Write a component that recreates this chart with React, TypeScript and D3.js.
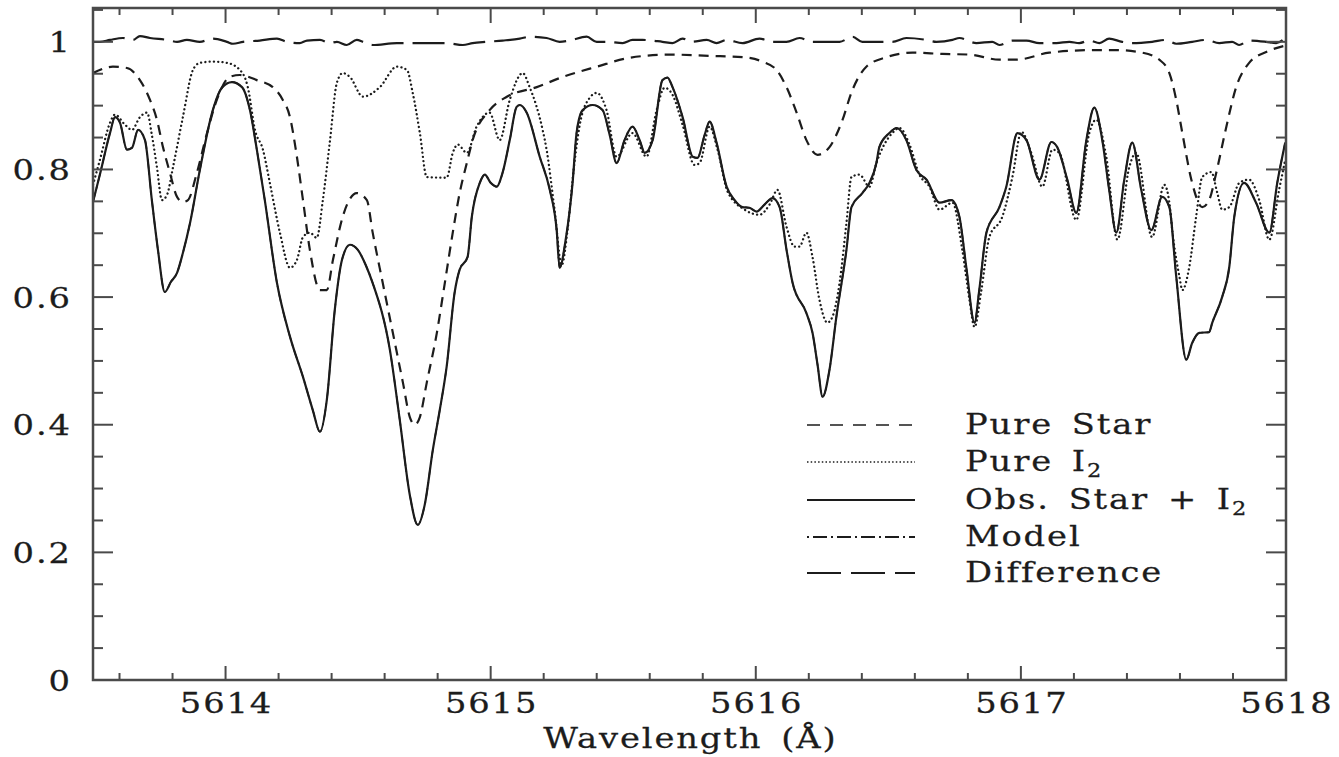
import React from "react";
import * as d3 from "d3";

// ---------- data (wavelength in Å, normalised flux) ----------
const obsWave = [5613.500,5613.526,5613.564,5613.583,5613.602,5613.628,5613.647,5613.670,5613.696,5613.722,5613.745,5613.771,5613.794,5613.817,5613.839,5613.866,5613.903,5613.952,5613.986,5614.024,5614.062,5614.092,5614.118,5614.148,5614.194,5614.243,5614.292,5614.329,5614.356,5614.382,5614.412,5614.439,5614.469,5614.499,5614.529,5614.555,5614.620,5614.657,5614.695,5614.725,5614.751,5614.782,5614.808,5614.834,5614.864,5614.883,5614.913,5614.929,5614.959,5614.978,5615.000,5615.023,5615.045,5615.072,5615.098,5615.110,5615.136,5615.185,5615.223,5615.249,5615.260,5615.283,5615.309,5615.324,5615.347,5615.385,5615.422,5615.449,5615.475,5615.505,5615.535,5615.562,5615.581,5615.611,5615.648,5615.667,5615.686,5615.724,5615.762,5615.780,5615.807,5615.826,5615.852,5615.890,5615.920,5615.950,5615.976,5616.003,5616.033,5616.063,5616.090,5616.116,5616.139,5616.191,5616.214,5616.233,5616.252,5616.278,5616.304,5616.342,5616.361,5616.402,5616.429,5616.455,5616.466,5616.504,5616.531,5616.568,5616.606,5616.644,5616.693,5616.738,5616.768,5616.794,5616.825,5616.843,5616.870,5616.919,5616.945,5616.987,5617.021,5617.070,5617.115,5617.137,5617.175,5617.209,5617.247,5617.277,5617.307,5617.333,5617.360,5617.390,5617.420,5617.454,5617.492,5617.533,5617.560,5617.586,5617.624,5617.646,5617.673,5617.710,5617.722,5617.759,5617.786,5617.805,5617.842,5617.887,5617.937,5617.967,5617.997];
const obsFlux = [0.749,0.792,0.857,0.882,0.873,0.831,0.834,0.862,0.846,0.752,0.674,0.608,0.624,0.638,0.669,0.716,0.799,0.893,0.928,0.937,0.929,0.893,0.831,0.752,0.622,0.538,0.475,0.423,0.389,0.439,0.580,0.658,0.682,0.674,0.650,0.622,0.517,0.408,0.290,0.243,0.274,0.361,0.423,0.491,0.607,0.643,0.663,0.726,0.779,0.792,0.779,0.773,0.795,0.846,0.898,0.901,0.889,0.820,0.768,0.705,0.646,0.690,0.779,0.857,0.893,0.901,0.893,0.854,0.810,0.846,0.867,0.846,0.826,0.846,0.940,0.944,0.929,0.882,0.820,0.818,0.854,0.875,0.842,0.773,0.752,0.741,0.740,0.734,0.745,0.755,0.741,0.674,0.622,0.575,0.544,0.494,0.444,0.486,0.569,0.674,0.741,0.763,0.779,0.810,0.835,0.857,0.865,0.846,0.799,0.784,0.748,0.752,0.726,0.647,0.560,0.611,0.701,0.741,0.773,0.857,0.846,0.784,0.843,0.835,0.784,0.732,0.846,0.897,0.846,0.768,0.701,0.784,0.842,0.768,0.705,0.757,0.741,0.632,0.502,0.528,0.544,0.545,0.560,0.600,0.647,0.726,0.779,0.748,0.701,0.779,0.842];

// the fitted model lies on top of the observed spectrum
const modelWave = obsWave;
const modelFlux = obsFlux;

const i2Wave = [5613.500,5613.526,5613.564,5613.583,5613.621,5613.647,5613.677,5613.704,5613.722,5613.741,5613.760,5613.779,5613.802,5613.839,5613.877,5613.903,5613.952,5614.005,5614.054,5614.084,5614.111,5614.141,5614.167,5614.205,5614.243,5614.269,5614.292,5614.318,5614.344,5614.367,5614.393,5614.420,5614.442,5614.469,5614.518,5614.582,5614.646,5614.684,5614.706,5614.733,5614.759,5614.834,5614.857,5614.876,5614.910,5614.947,5614.996,5615.034,5615.072,5615.121,5615.147,5615.196,5615.211,5615.241,5615.268,5615.290,5615.313,5615.336,5615.373,5615.400,5615.437,5615.475,5615.535,5615.588,5615.626,5615.656,5615.686,5615.724,5615.769,5615.788,5615.826,5615.856,5615.894,5615.958,5616.014,5616.052,5616.082,5616.116,5616.146,5616.165,5616.191,5616.214,5616.240,5616.270,5616.289,5616.316,5616.342,5616.361,5616.391,5616.429,5616.455,5616.515,5616.542,5616.580,5616.617,5616.655,5616.693,5616.742,5616.779,5616.806,5616.825,5616.851,5616.881,5616.930,5616.968,5617.002,5617.039,5617.081,5617.119,5617.145,5617.209,5617.258,5617.284,5617.322,5617.364,5617.409,5617.435,5617.495,5617.541,5617.560,5617.572,5617.598,5617.609,5617.635,5617.661,5617.684,5617.718,5617.741,5617.759,5617.786,5617.824,5617.861,5617.899,5617.937,5617.974,5617.997];
const i2Flux = [0.776,0.815,0.873,0.886,0.870,0.862,0.882,0.889,0.854,0.804,0.752,0.760,0.804,0.882,0.956,0.967,0.969,0.967,0.956,0.929,0.862,0.831,0.779,0.701,0.646,0.658,0.694,0.701,0.693,0.752,0.842,0.936,0.951,0.945,0.914,0.929,0.961,0.956,0.920,0.857,0.788,0.787,0.826,0.839,0.826,0.867,0.889,0.846,0.909,0.951,0.929,0.862,0.831,0.737,0.650,0.705,0.799,0.870,0.912,0.920,0.893,0.820,0.857,0.820,0.893,0.928,0.917,0.870,0.807,0.810,0.867,0.831,0.765,0.737,0.729,0.745,0.768,0.710,0.679,0.679,0.701,0.663,0.596,0.560,0.569,0.622,0.716,0.788,0.792,0.773,0.810,0.857,0.865,0.839,0.792,0.773,0.737,0.748,0.674,0.596,0.553,0.611,0.694,0.726,0.788,0.859,0.826,0.773,0.831,0.826,0.721,0.857,0.878,0.820,0.690,0.804,0.826,0.694,0.776,0.748,0.701,0.632,0.611,0.647,0.726,0.788,0.796,0.763,0.737,0.741,0.779,0.784,0.752,0.690,0.768,0.815];

const starWave = [5613.500,5613.575,5613.628,5613.677,5613.715,5613.741,5613.764,5613.790,5613.817,5613.839,5613.858,5613.892,5613.930,5613.967,5614.016,5614.054,5614.118,5614.178,5614.216,5614.243,5614.265,5614.292,5614.318,5614.356,5614.382,5614.405,5614.442,5614.495,5614.533,5614.555,5614.593,5614.631,5614.669,5614.695,5614.714,5614.733,5614.759,5614.797,5614.827,5614.857,5614.883,5614.910,5614.932,5614.996,5615.061,5615.174,5615.272,5615.400,5615.524,5615.675,5615.826,5615.950,5616.025,5616.078,5616.116,5616.154,5616.191,5616.233,5616.278,5616.323,5616.365,5616.417,5616.493,5616.591,5616.704,5616.806,5616.919,5616.983,5617.107,5617.269,5617.360,5617.458,5617.522,5617.560,5617.586,5617.609,5617.643,5617.684,5617.710,5617.737,5617.775,5617.812,5617.861,5617.925,5617.997];
const starFlux = [0.951,0.961,0.959,0.940,0.909,0.878,0.835,0.795,0.757,0.749,0.752,0.795,0.857,0.909,0.945,0.948,0.940,0.929,0.909,0.882,0.831,0.752,0.674,0.611,0.611,0.658,0.726,0.763,0.752,0.701,0.622,0.544,0.466,0.412,0.400,0.412,0.466,0.544,0.622,0.701,0.763,0.810,0.846,0.893,0.914,0.929,0.945,0.961,0.975,0.980,0.978,0.976,0.969,0.956,0.929,0.889,0.846,0.823,0.835,0.873,0.925,0.961,0.976,0.983,0.981,0.980,0.972,0.972,0.983,0.987,0.987,0.983,0.972,0.951,0.909,0.857,0.784,0.741,0.752,0.795,0.867,0.929,0.967,0.984,0.994];

const diffWave = [5613.500,5613.526,5613.564,5613.613,5613.651,5613.677,5613.715,5613.779,5613.817,5613.854,5613.903,5613.952,5614.005,5614.028,5614.066,5614.129,5614.194,5614.231,5614.280,5614.307,5614.356,5614.393,5614.420,5614.457,5614.495,5614.518,5614.555,5614.646,5614.721,5614.834,5614.895,5614.932,5614.985,5615.045,5615.110,5615.147,5615.211,5615.260,5615.298,5615.362,5615.400,5615.437,5615.498,5615.535,5615.573,5615.648,5615.686,5615.724,5615.758,5615.815,5615.852,5615.890,5615.950,5616.014,5616.063,5616.116,5616.165,5616.214,5616.267,5616.316,5616.365,5616.402,5616.455,5616.515,5616.568,5616.644,5616.681,5616.742,5616.768,5616.832,5616.892,5616.919,5616.968,5617.021,5617.070,5617.134,5617.183,5617.220,5617.258,5617.296,5617.333,5617.382,5617.420,5617.495,5617.548,5617.586,5617.646,5617.699,5617.748,5617.797,5617.823,5617.861,5617.925,5617.963,5617.997];
const diffFlux = [1.000,1.000,1.003,1.006,1.003,1.009,1.006,1.003,1.000,1.003,1.000,1.005,1.000,0.997,1.000,1.002,1.005,1.000,0.998,1.002,1.003,0.998,1.000,0.995,1.003,1.000,0.995,0.998,0.998,0.998,0.995,0.998,1.000,1.002,1.005,1.008,1.006,1.000,1.002,1.008,1.000,1.000,0.998,1.003,1.003,1.000,0.998,1.005,1.000,1.003,0.998,1.003,0.998,1.005,1.000,1.000,1.006,1.000,1.000,1.000,1.008,1.000,1.000,1.000,1.006,1.003,1.000,1.003,1.006,0.998,1.000,0.995,1.002,1.002,0.998,0.998,1.000,0.998,1.002,0.998,1.005,1.000,0.998,1.000,1.003,0.997,1.000,1.003,0.998,1.000,0.995,1.002,1.000,0.998,1.006];

const xMajorTicks = [5614, 5615, 5616, 5617, 5618];
const xTickLabels = ["5614", "5615", "5616", "5617", "5618"];
const yMajorTicks = [0, 0.2, 0.4, 0.6, 0.8, 1.0];
const yTickLabels = ["0", "0.2", "0.4", "0.6", "0.8", "1"];
const xDomain = [5613.5, 5618];
const yDomain = [0, 1.053];

const legendLabels = ["Pure Star", "Pure I", "Obs. Star + I", "Model", "Difference"];

// ---------- layout ----------
const W = 1339, H = 757;
const L = 93, R = 1286, T = 8, B = 680;
const INK = "#1c1c1c";
const FRAME = "#4a4a4a";
const FONT = "'DejaVu Serif', serif";
const FS = 27;
const LS = 1.5;
const SX = 1.25;

type Style = { dash: string; width: number; cap: "butt" | "round" };
const styles: Style[] = [
  { dash: "10,7", width: 2.2, cap: "butt" },      // pure star
  { dash: "0.1,4.2", width: 2.3, cap: "round" },  // pure I2
  { dash: "", width: 2.2, cap: "butt" },          // obs
  { dash: "10,4,2,4", width: 1.6, cap: "butt" },  // model
  { dash: "32,9", width: 2.2, cap: "butt" },      // difference
];
const legendStyles: Style[] = [
  { dash: "13,10", width: 1.6, cap: "butt" },
  { dash: "1.5,2.2", width: 1.4, cap: "butt" },
  { dash: "", width: 1.8, cap: "butt" },
  { dash: "2,4,14,4", width: 1.8, cap: "butt" },
  { dash: "34,10", width: 1.8, cap: "butt" },
];

const textStyle: React.CSSProperties = {
  fontFamily: FONT,
  fontSize: FS,
  letterSpacing: LS,
  wordSpacing: 5,
  fill: INK,
  stroke: INK,
  strokeWidth: 0.25,
};

function Label(props: {
  x: number;
  y: number;
  anchor: "start" | "middle" | "end";
  children: React.ReactNode;
}) {
  const shift = props.anchor === "end" ? LS : props.anchor === "middle" ? LS / 2 : 0;
  return (
    <g transform={`translate(${props.x},${props.y}) scale(${SX},1)`}>
      <text x={shift} y={0} textAnchor={props.anchor} style={textStyle}>
        {props.children}
      </text>
    </g>
  );
}

export default function App() {
  const x = d3.scaleLinear().domain(xDomain).range([L, R]);
  const y = d3.scaleLinear().domain(yDomain).range([B, T]);

  const mk = (w: number[], f: number[]) =>
    d3
      .line<number>()
      .x((_, i) => x(w[i]))
      .y((v) => y(v))
      .curve(d3.curveMonotoneX)(f) || "";

  const series = [
    mk(starWave, starFlux),
    mk(i2Wave, i2Flux),
    mk(obsWave, obsFlux),
    mk(modelWave, modelFlux),
    mk(diffWave, diffFlux),
  ];

  const xMinor = d3.range(5613.6, 5618.0001, 0.2).filter(
    (v) => !xMajorTicks.some((m) => Math.abs(m - v) < 1e-6)
  );
  const yMinor = d3.range(0.05, 1.0501, 0.05).filter(
    (v) => !yMajorTicks.some((m) => Math.abs(m - v) < 1e-6)
  );

  const legendRows = [425, 462, 500, 537, 573];

  return (
    <svg
      width={W}
      height={H}
      style={{ position: "absolute", left: 0, top: 0, background: "#fff" }}
    >
      <defs>
        <clipPath id="plotclip">
          <rect x={L} y={T} width={R - L} height={B - T} />
        </clipPath>
      </defs>

      {/* data */}
      <g clipPath="url(#plotclip)" fill="none" stroke={INK} strokeLinejoin="round">
        {series.map((d, i) => (
          <path
            key={i}
            d={d}
            strokeWidth={styles[i].width}
            strokeDasharray={styles[i].dash || undefined}
            strokeLinecap={styles[i].cap}
          />
        ))}
      </g>

      {/* frame */}
      <rect x={L} y={T} width={R - L} height={B - T} fill="none" stroke={FRAME} strokeWidth={2.5} />

      {/* ticks */}
      <g stroke={FRAME} strokeWidth={2}>
        {xMajorTicks.map((v) => (
          <g key={"xM" + v}>
            <line x1={x(v)} x2={x(v)} y1={B} y2={B - 14} />
            <line x1={x(v)} x2={x(v)} y1={T} y2={T + 15} />
          </g>
        ))}
        {xMinor.map((v) => (
          <g key={"xm" + v}>
            <line x1={x(v)} x2={x(v)} y1={B} y2={B - 7} />
            <line x1={x(v)} x2={x(v)} y1={T} y2={T + 7} />
          </g>
        ))}
        {yMajorTicks.map((v) => (
          <g key={"yM" + v}>
            <line x1={L} x2={L + 20} y1={y(v)} y2={y(v)} />
            <line x1={R} x2={R - 20} y1={y(v)} y2={y(v)} />
          </g>
        ))}
        {yMinor.map((v) => (
          <g key={"ym" + v}>
            <line x1={L} x2={L + 10} y1={y(v)} y2={y(v)} />
            <line x1={R} x2={R - 10} y1={y(v)} y2={y(v)} />
          </g>
        ))}
      </g>

      {/* tick labels */}
      {xMajorTicks.map((v, i) => (
        <Label key={"xl" + v} x={x(v)} y={B + 33} anchor="middle">
          {xTickLabels[i]}
        </Label>
      ))}
      {yMajorTicks.map((v, i) => (
        <Label key={"yl" + v} x={70} y={y(v) + 10.5} anchor="end">
          {yTickLabels[i]}
        </Label>
      ))}
      <Label x={(L + R) / 2} y={748} anchor="middle">
        Wavelength (Å)
      </Label>

      {/* legend */}
      {legendRows.map((ry, i) => (
        <g key={"lg" + i}>
          <line
            x1={807}
            x2={915}
            y1={ry}
            y2={ry}
            stroke={INK}
            strokeWidth={legendStyles[i].width}
            strokeDasharray={legendStyles[i].dash || undefined}
          />
          <Label x={965} y={ry + 9} anchor="start">
            {legendLabels[i]}
            {(i === 1 || i === 2) && (
              <tspan fontSize={18} dy={6} letterSpacing={0}>
                2
              </tspan>
            )}
          </Label>
        </g>
      ))}
    </svg>
  );
}
